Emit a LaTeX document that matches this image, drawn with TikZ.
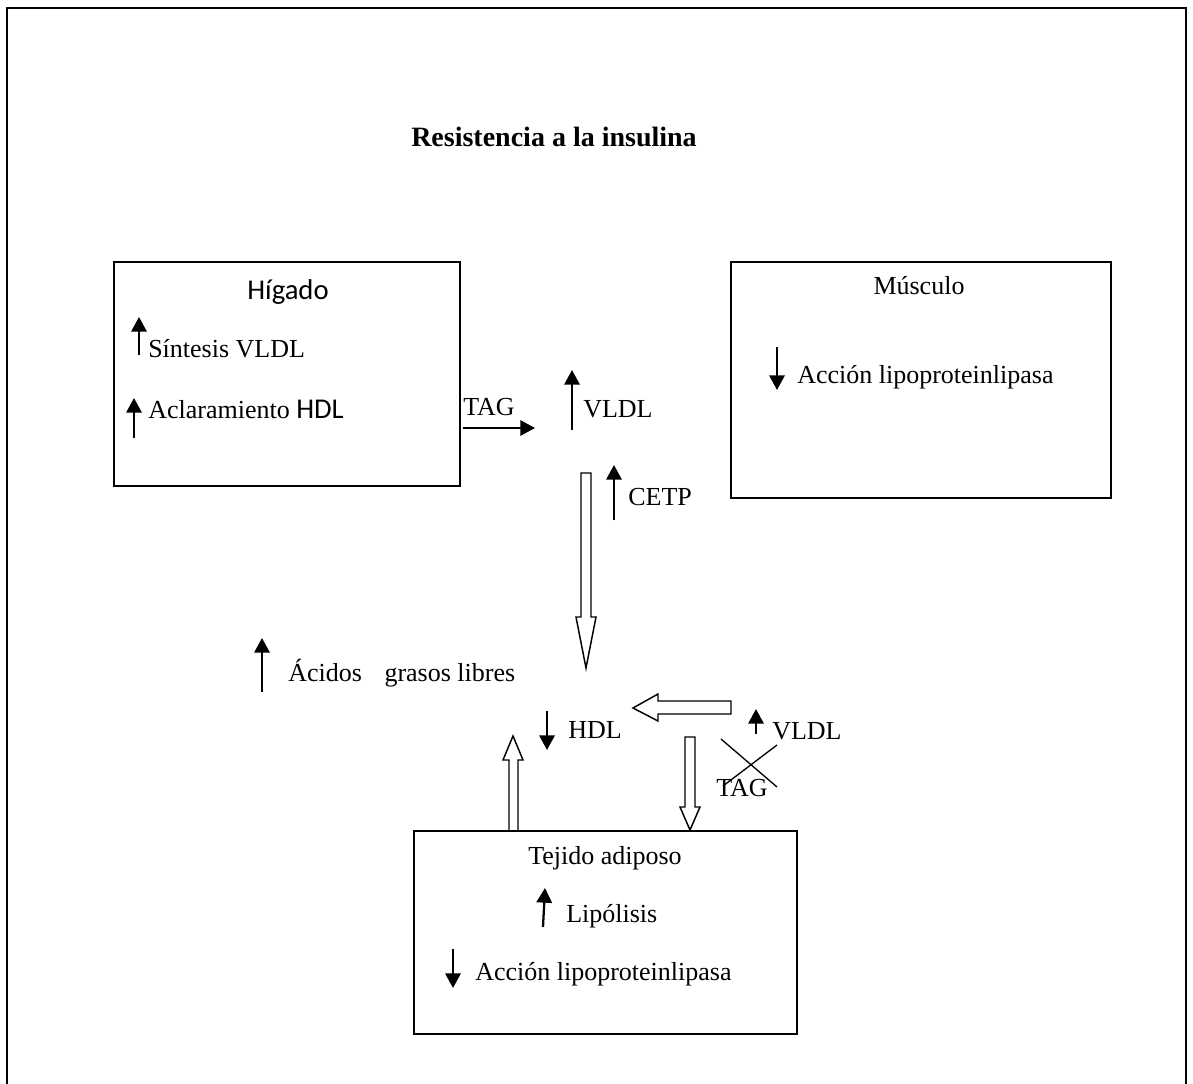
\documentclass[tikz,border=0pt]{standalone}
\usepackage{fontspec}
\setmainfont{Liberation Serif}
\newfontfamily\calibri{Carlito}
\usetikzlibrary{arrows.meta}
\begin{document}
\begin{tikzpicture}[x=0.75pt,y=-0.75pt,
  txt/.style={inner sep=0pt,anchor=base west,font=\fontsize{19.5}{22}\selectfont},
  ctxt/.style={inner sep=0pt,anchor=base,font=\fontsize{19.5}{22}\selectfont},
  organ/.style={draw,line width=1.3pt,anchor=north west,inner sep=0pt},
  blackarrow/.style={line width=1.7pt,-{Triangle[length=11pt,width=11.5pt]}},
  hollow/.style={draw,line width=1.1pt,fill=white,line join=miter},
  frame/.style={line width=1.5pt}]
\useasboundingbox (0,0) rectangle (1193,1084);
% outer frame (no bottom edge)
\draw[frame] (7,1084) -- (7,8) -- (1186,8) -- (1186,1084);
% title
\node[inner sep=0pt,anchor=base,font=\fontsize{21}{25}\selectfont\bfseries] (title) at (554,147) {Resistencia a la insulina};

% ---- Higado
\node[organ,minimum width=259.5pt,minimum height=168pt] (higado) at (113,261) {};
\node[inner sep=0pt,anchor=base,font=\calibri\fontsize{21.5}{24}\selectfont] (higlbl) at (288,300) {Hígado};
\coordinate (s1a) at (139,355); \coordinate (s1b) at (139,317);
\draw[blackarrow] (s1a) -- (s1b);
\node[txt] (sint) at (148,358) {Síntesis VLDL};
\coordinate (s2a) at (134,438); \coordinate (s2b) at (134,398);
\draw[blackarrow] (s2a) -- (s2b);
\node[txt] (acla) at (148,418) {Aclaramiento {\calibri\fontsize{21.5}{24}\selectfont HDL}};

% ---- TAG -> VLDL
\node[txt] (tag1) at (463,416) {TAG};
\coordinate (t1a) at (463,428); \coordinate (t1b) at (535,428);
\draw[blackarrow] (t1a) -- (t1b);
\coordinate (v1a) at (572,430); \coordinate (v1b) at (572,370);
\draw[blackarrow] (v1a) -- (v1b);
\node[txt] (vldl1) at (583,417) {VLDL};

% ---- Musculo
\node[organ,minimum width=285pt,minimum height=177pt] (musculo) at (730,261) {};
\node[ctxt] (muslbl) at (919,295) {Músculo};
\coordinate (m1a) at (777,347); \coordinate (m1b) at (777,390);
\draw[blackarrow] (m1a) -- (m1b);
\node[txt] (musacc) at (797,383) {Acción lipoproteinlipasa};

% ---- CETP
\coordinate (c1a) at (614,520); \coordinate (c1b) at (614,465);
\draw[blackarrow] (c1a) -- (c1b);
\node[txt] (cetp) at (628,505) {CETP};

% big hollow down arrow
\draw[hollow] (581,473) -- (591,473) -- (591,617) -- (596,617) -- (586,668) -- (576,617) -- (581,617) -- cycle;

% ---- Acidos grasos libres
\coordinate (a1a) at (262,692); \coordinate (a1b) at (262,638);
\draw[blackarrow] (a1a) -- (a1b);
\node[txt] (agl) at (288,681) {Ácidos\hspace{0.87em}grasos libres};

% ---- HDL
\coordinate (h1a) at (547,711); \coordinate (h1b) at (547,750);
\draw[blackarrow] (h1a) -- (h1b);
\node[txt] (hdl) at (568,738) {HDL};

% left hollow arrow
\draw[hollow] (731,701) -- (731,714) -- (658,714) -- (658,721) -- (633,708) -- (658,694) -- (658,701) -- cycle;

% ---- VLDL crossed TAG
\coordinate (v2a) at (756,734); \coordinate (v2b) at (756,709);
\draw[blackarrow] (v2a) -- (v2b);
\node[txt] (vldl2) at (772,739) {VLDL};
\node[txt] (tag2) at (716,796) {TAG};
\draw[line width=1pt] (721,739) -- (777,787);
\draw[line width=1pt] (777,745) -- (723,786);

% up hollow arrow (left)
\draw[hollow] (509,830) -- (509,760) -- (503,760) -- (513,736) -- (523,760) -- (518,760) -- (518,830);
% down hollow arrow (right)
\draw[hollow] (685,737) -- (695,737) -- (695,807) -- (700,807) -- (690,830) -- (680,807) -- (685,807) -- cycle;

% ---- Tejido adiposo
\node[organ,minimum width=287.25pt,minimum height=152.25pt] (tejido) at (413,830) {};
\node[ctxt] (tejlbl) at (605,864) {Tejido adiposo};
\coordinate (l1a) at (543,927); \coordinate (l1b) at (545,888);
\draw[blackarrow] (l1a) -- (l1b);
\node[txt] (lipo) at (566,922) {Lipólisis};
\coordinate (l2a) at (453,949); \coordinate (l2b) at (453,988);
\draw[blackarrow] (l2a) -- (l2b);
\node[txt] (tejacc) at (475,980) {Acción lipoproteinlipasa};
\end{tikzpicture}
\end{document}
